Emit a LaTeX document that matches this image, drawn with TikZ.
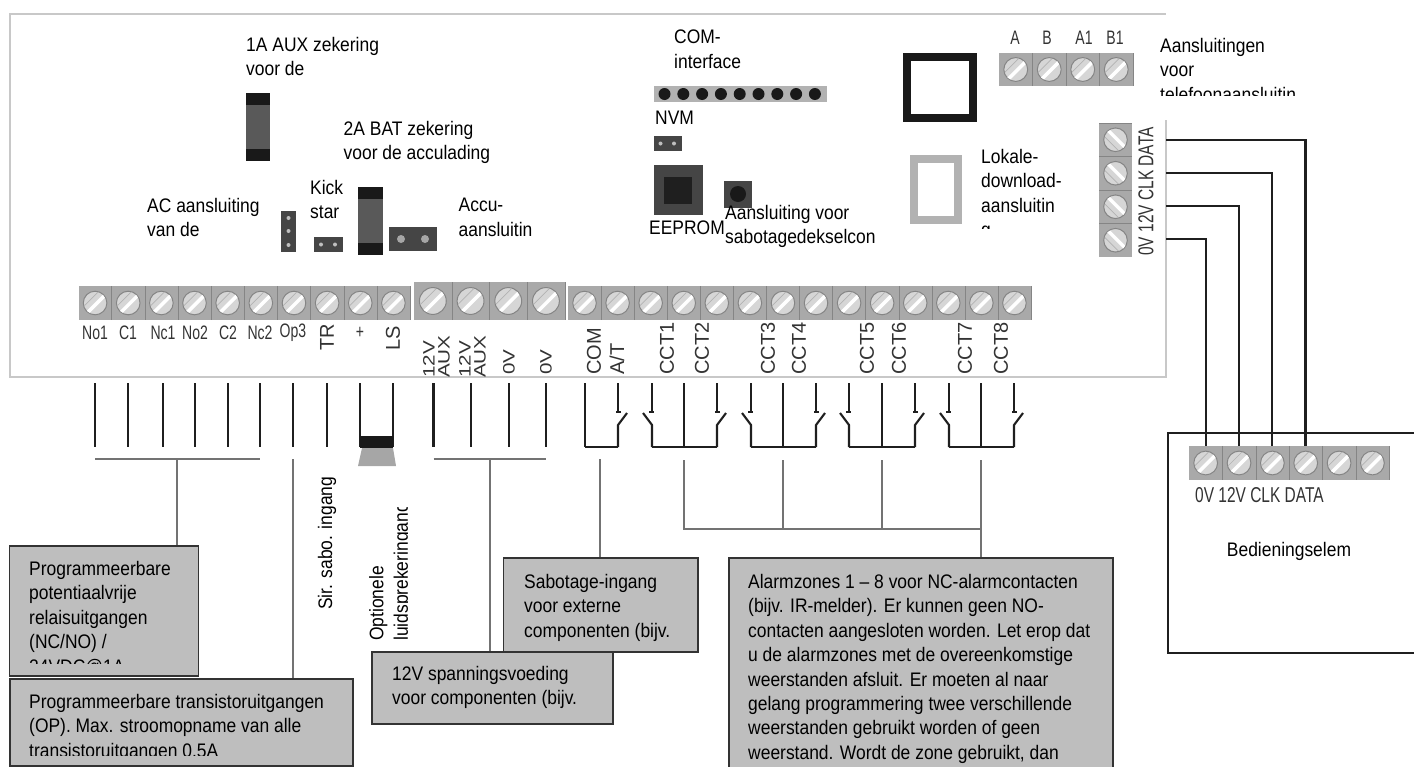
\documentclass[tikz,border=0pt]{standalone}
\usepackage{fontspec}
\setmainfont{Liberation Sans}[FakeStretch=0.89]
\newfontfamily\narrowfont{Liberation Sans}[FakeStretch=0.72]
\newfontfamily\plainfont{Liberation Sans}
\newfontfamily\widefont{Liberation Sans}[FakeStretch=1.25]
\definecolor{boardline}{HTML}{C8C8C8}
\definecolor{cellgray}{HTML}{A9A9A9}
\definecolor{cellline}{HTML}{858585}
\definecolor{screwgray}{HTML}{D6D6D6}
\definecolor{boxgray}{HTML}{BEBEBE}
\definecolor{partdark}{HTML}{454545}
\definecolor{labelgray}{HTML}{333333}
\tikzset{
    wire/.style={line width=2.1pt, black!88},
    leader/.style={line width=1.5pt, black!55},
    note/.style={font=\fontsize{19.6}{24.4}\selectfont, align=left, anchor=north west, inner sep=0pt},
    infobox/.style={draw=black!80, fill=boxgray, line width=1.6pt, anchor=north west, inner sep=0pt},
    termlabel/.style={font=\fontsize{19.5}{20}\narrowfont, text=labelgray, inner sep=0pt},
    sidelabel/.style={font=\fontsize{20}{20}\plainfont, text=labelgray, inner sep=0pt, rotate=90, anchor=west},
    auxlabel/.style={font=\fontsize{16.5}{15}\widefont, text=labelgray, inner sep=0pt, rotate=90, align=left, anchor=north west},
    screwhead/.pic={
        \fill[screwgray, draw=cellline, line width=1pt] (0,0) circle (11.8);
        \begin{scope}
            \clip (0,0) circle (11.3);
            \draw[white, line width=3.5pt] (-8,10) -- (10,-8);
            \draw[black!30, line width=0.7pt] (-11,3) -- (3,-11);
        \end{scope}
    },
    switchleft/.pic={
        \draw[wire] (0,0) -- (0,30);
        \draw[wire] (-3,29) -- (2,29);
        \draw[wire] (-9,30) -- (0,42) -- (0,64);
    }
}
\newcommand{\screwstrip}[5]{
    \fill[cellgray] (#1,#2) rectangle ++(#3*#4,#5);
    \foreach \n in {1,...,#3} {
        \draw[cellline] ({#1+\n*#4},#2) -- ++(0,#5);
        \pic[scale=#4/33.15] at ({#1+(\n-0.5)*#4},{#2+0.5*#5}) {screwhead};
    }
}
\begin{document}
\begin{tikzpicture}[x=1pt, y=-1pt]
    \useasboundingbox (0,0) rectangle (1414,766);
    \clip (0,0) rectangle (1414,766);
    \draw[boardline, line width=1.2pt] (1166,120) -- (1166,377) -- (10,377) -- (10,14) -- (1166,14);

    \screwstrip{78.5}{286}{10}{33.15}{34}
    \screwstrip{414}{282}{4}{37.7}{38}
    \screwstrip{568}{286}{14}{33.07}{34}
    \screwstrip{999}{53}{4}{33.5}{33}
    \screwstrip{1189}{446}{6}{33.35}{34}
    \fill[cellgray] (1099,123) rectangle (1132,257);
    \foreach \n in {0,1,2,3} {
        \draw[cellline] (1099,{123+\n*33.5}) -- ++(33,0);
        \pic[rotate=90] at (1115.5,{139.75+\n*33.5}) {screwhead};
    }

    % fuses and headers
    \fill[black!65] (246,93) rectangle (270,161);
    \fill[black!90] (246,93) rectangle (270,105);
    \fill[black!90] (246,149) rectangle (270,161);
    \fill[black!65] (358,187) rectangle (383,255);
    \fill[black!90] (358,187) rectangle (383,199);
    \fill[black!90] (358,243) rectangle (383,255);
    \fill[partdark] (281,211) rectangle (296,252);
    \foreach \y in {218,231,245} \fill[black!25] (288.5,\y) circle (2);
    \fill[partdark] (314,237) rectangle (343,252);
    \foreach \x in {321,335} \fill[black!25] (\x,244.5) circle (2);
    \fill[partdark] (389,227) rectangle (437,251);
    \foreach \x in {401,425} \fill[black!35] (\x,239) circle (4);
    \fill[black!30] (653.5,86) rectangle (827,102);
    \foreach \x in {0,...,8} \fill[black!90] ({664.5+\x*18.8},94) circle (6);
    \fill[partdark] (653.5,136) rectangle (682,151);
    \foreach \x in {660.5,674} \fill[black!25] (\x,143.5) circle (2);
    \fill[partdark] (653.5,165) rectangle (703,215);
    \fill[black!88] (663.5,177) rectangle (692,204);
    \fill[partdark] (724,181) rectangle (752,208);
    \fill[black!90] (738,194) circle (8);
    \draw[black!90, line width=8pt] (907,57) rectangle (973,118);
    \draw[black!30, line width=8pt] (914,159) rectangle (958,220);

    % texts on the board
    \node[note] (auxfuse) at (246,37) {1A AUX zekering\\voor de};
    \node[note] (batfuse) at (343.5,121) {2A BAT zekering\\voor de acculading};
    \node[note] (acconn) at (147,198) {AC aansluiting\\van de};
    \node[note] (kick) at (310,180) {Kick\\star};
    \node[note] (accu) at (458.5,198) {Accu-\\aansluitin};
    \node[note] (cominterface) at (674,30) {COM-\\interface};
    \node[note] (nvm) at (655,111) {NVM};
    \node[note] (eeprom) at (649,221) {EEPROM};
    \node[note] (tamper) at (725,205) {Aansluiting voor\\sabotagedekselcon};
    \begin{scope}
        \clip (975,140) rectangle (1100,228);
        \node[note] (download) at (981,149) {Lokale-\\download-\\aansluitin\\g};
    \end{scope}
    \begin{scope}
        \clip (1150,30) rectangle (1300,95);
        \node[note] (phone) at (1160,38) {Aansluitingen\\voor\\telefoonaansluitin};
    \end{scope}

    \foreach \x/\t [count=\i] in {1015/A,1047/B,1084/A1,1115/B1}
        \node[termlabel] (phone\i) at (\x,38) {\t};
    \foreach \x/\t [count=\i] in {95/No1,128/C1,163/Nc1,195/No2,228/C2,260/Nc2,293/Op3,360/+}
        \node[termlabel] (out\i) at (\x,333) {\t};
    \node[sidelabel] (tr) at (327,351) {TR};
    \node[sidelabel] (ls) at (393,351) {LS};
    \node[auxlabel] (auxa) at (423,378) {12V\\AUX};
    \node[auxlabel] (auxb) at (459,378) {12V\\AUX};
    \node[auxlabel] (zeroa) at (503,375) {0V};
    \node[auxlabel] (zerob) at (540,375) {0V};
    \foreach \x/\t [count=\i] in {594/COM,617/{A/T},667/CCT1,702/CCT2,768/CCT3,799/CCT4,867/CCT5,899/CCT6,965/CCT7,1001/CCT8}
        \node[sidelabel] (zone\i) at (\x,375) {\t};
    \node[termlabel, rotate=90, font=\fontsize{21.5}{22}\narrowfont, anchor=west] (padside) at (1146,256) {0V 12V CLK DATA};

    % outputs
    \foreach \x [count=\i] in {95,128,163,195,228,260,293,327,360,393,433.5,471,509,546} {
        \coordinate (top\i) at (\x,383);
        \coordinate (end\i) at (\x,447);
        \draw[wire] (top\i) -- (end\i);
    }
    \fill[black!90] (360,436) rectangle (393,448);
    \fill[black!35] (362,448) -- (393,448) -- (396,466) -- (358,466) -- cycle;

    % zones
    \foreach \x in {618,717,816,915,1014} \pic[xscale=-1] at (\x,383) {switchleft};
    \foreach \x in {652,751,849,949} \pic at (\x,383) {switchleft};
    \foreach \x [count=\i] in {585,684,783,882,981} {
        \coordinate (common\i) at (\x,383);
        \coordinate (foot\i) at (\x,447);
        \draw[wire] (common\i) -- (foot\i);
    }
    \draw[wire] (585,447) -- (618,447);
    \draw[wire] (652,447) -- (717,447);
    \draw[wire] (751,447) -- (816,447);
    \draw[wire] (849,447) -- (915,447);
    \draw[wire] (949,447) -- (1014,447);

    % boxes below the board
    \node[infobox, minimum width=189pt, minimum height=130pt] (relaybox) at (8.5,545) {};
    \node[infobox, minimum width=343pt, minimum height=87pt] (transbox) at (9,678) {};
    \node[infobox, minimum width=194.5pt, minimum height=94pt] (sabobox) at (502.5,557) {};
    \node[infobox, minimum width=241pt, minimum height=72pt] (powerbox) at (371,651) {};
    \node[infobox, minimum width=384pt, minimum height=230pt] (alarmbox) at (728,557) {};
    \draw[wire] (1420,433) -- (1168,433) -- (1168,653) -- (1420,653);

    \coordinate (relaybar) at (177,459);
    \coordinate (opbar) at (293,459);
    \coordinate (powerbar) at (490,459);
    \coordinate (sabobar) at (600,459);
    \draw[leader] (95,459) -- (260,459);
    \draw[leader] (433.5,459) -- (546,459);
    \draw[leader] (relaybar) -- (relaybar |- relaybox.north);
    \draw[leader] (opbar) -- (opbar |- transbox.north);
    \draw[leader] (powerbar) -- (powerbar |- powerbox.north);
    \draw[leader] (sabobar) -- (sabobar |- sabobox.north);
    \coordinate (alarma) at (684,460);
    \coordinate (alarmb) at (783,460);
    \coordinate (alarmc) at (882,460);
    \coordinate (alarmd) at (981,460);
    \draw[leader] (alarma) -- (684,529) -- (981,529);
    \draw[leader] (alarmb) -- (783,529);
    \draw[leader] (alarmc) -- (882,529);
    \draw[leader] (alarmd) -- (alarmd |- alarmbox.north);

    \begin{scope}
        \clip (9,546) rectangle (197,663);
        \node[note] (relaytext) at (29,561) {Programmeerbare\\potentiaalvrije\\relaisuitgangen\\(NC/NO) /\\24VDC@1A};
    \end{scope}
    \begin{scope}
        \clip (9,679) rectangle (352,755);
        \node[note] (transtext) at (29,694) {Programmeerbare transistoruitgangen\\(OP). Max. stroomopname van alle\\transistoruitgangen 0.5A};
    \end{scope}
    \node[note] (sabotext) at (524,574) {Sabotage-ingang\\voor externe\\componenten (bijv.};
    \node[note] (powertext) at (392,666) {12V spanningsvoeding\\voor componenten (bijv.};
    \begin{scope}
        \clip (729,558) rectangle (1112,766);
        \node[note] (alarmtext) at (748,574) {Alarmzones 1 -- 8 voor NC-alarmcontacten\\(bijv. IR-melder). Er kunnen geen NO-\\contacten aangesloten worden. Let erop dat\\u de alarmzones met de overeenkomstige\\weerstanden afsluit. Er moeten al naar\\gelang programmering twee verschillende\\weerstanden gebruikt worden of geen\\weerstand. Wordt de zone gebruikt, dan};
    \end{scope}
    \node[note, rotate=90, anchor=west] (sirsabo) at (327,610) {Sir. sabo. ingang};
    \begin{scope}
        \clip (365,507) rectangle (407,645);
        \node[note, rotate=90, anchor=north west] (speaker) at (369,641) {Optionele\\luidsprekeringang};
    \end{scope}

    % keypad
    \foreach \y/\x [count=\i] in {140/1305.5,173/1272,206/1239,239/1206} {
        \coordinate (boardpin\i) at (1166,\y);
        \coordinate (padpin\i) at (\x,446);
        \draw[wire] (boardpin\i) -| (padpin\i);
    }
    \node[termlabel, font=\fontsize{21.5}{22}\narrowfont, anchor=west] (padterm) at (1195,495) {0V 12V CLK DATA};
    \node[note, anchor=center] (padname) at (1289,551) {Bedieningselem};
\end{tikzpicture}
\end{document}
